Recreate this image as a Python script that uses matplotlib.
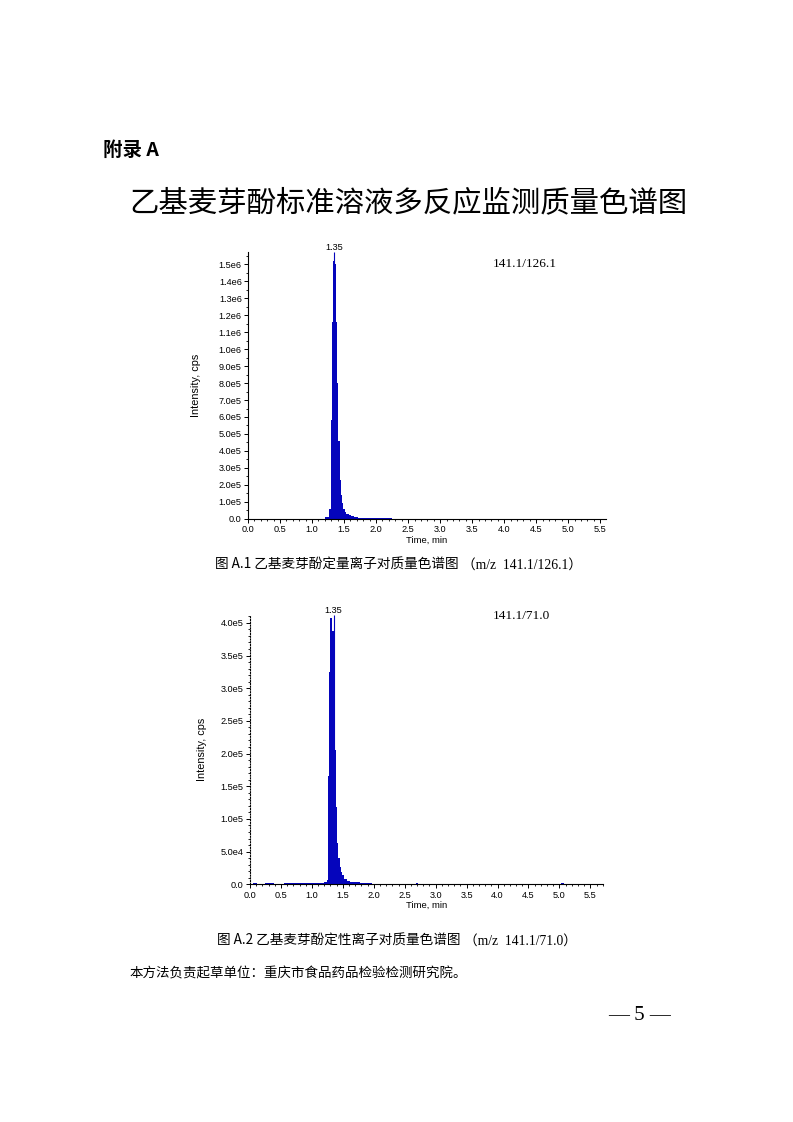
import matplotlib
matplotlib.use('Agg')
import matplotlib.pyplot as plt
from matplotlib.ticker import MultipleLocator, FixedLocator
import numpy as np

plt.rcParams['font.family'] = ['Noto Sans CJK SC', 'DejaVu Sans']

# 数据: 定量离子 141.1/126.1 (时间 min 为每段边界, 强度 cps 为每段值)
t1 = [1.21, 1.27, 1.29, 1.31, 1.33, 1.35, 1.37, 1.39, 1.41, 1.43, 1.45, 1.47,
      1.49, 1.51, 1.53, 1.57, 1.61, 1.65, 1.72, 2.25]
y1 = [1.0e4, 6.0e4, 5.8e5, 1.16e6, 1.52e6, 1.50e6, 1.16e6, 8.0e5, 4.6e5, 2.3e5,
      1.4e5, 9.0e4, 6.0e4, 4.0e4, 3.0e4, 2.4e4, 1.8e4, 1.2e4, 6.0e3]
apex1 = (1.35, 1.575e6)

# 数据: 定性离子 141.1/71.0
t2 = [0.05, 0.12, 0.25, 0.38, 0.55, 0.62, 1.20, 1.24, 1.26, 1.28, 1.30, 1.33,
      1.35, 1.37, 1.39, 1.41, 1.43, 1.45, 1.47, 1.49, 1.52, 1.57, 1.62, 1.78,
      1.97, 2.55, 2.68, 2.72, 5.03, 5.08]
y2 = [2.0e3, 0, 2.0e3, 0, 2.0e3, 1.5e3, 3.0e3, 7.0e3, 1.65e5, 3.25e5, 4.07e5,
      3.87e5, 3.03e5, 2.06e5, 1.19e5, 6.3e4, 4.0e4, 2.7e4, 1.9e4, 1.4e4, 8.0e3,
      5.0e3, 3.5e3, 1.5e3, 1.0e3, 0, 2.0e3, 0, 2.0e3]
apex2 = (1.35, 4.12e5)

ticks1 = np.arange(0, 16) * 1e5
labels1 = ['0.0'] + [f'{i}.0e5' for i in range(1, 10)] + [f'1.{i}e6' for i in range(0, 6)]
ticks2 = np.arange(0, 9) * 5e4
labels2 = ['0.0', '5.0e4', '1.0e5', '1.5e5', '2.0e5', '2.5e5', '3.0e5', '3.5e5', '4.0e5']

W, H = 793, 1122
fig = plt.figure(figsize=(W / 100, H / 100), dpi=100)

def fx(x):
    return x / W

def fy(y):
    return 1 - y / H

blue = '#0505bc'
sans = ['Liberation Sans', 'DejaVu Sans']
tickfont = dict(family=sans, size=6.6)

def chrom(rect, t, y, apex, ticks, labels, xmax, ymax, dotted, lpad):
    ax = fig.add_axes(rect)
    ax.stairs(y, t, fill=True, color=blue, linewidth=0)
    ax.vlines(apex[0], 0, apex[1], color=blue, linewidth=0.8)
    ax.set_xlim(0, xmax)
    ax.set_ylim(0, ymax)
    for s in ['top', 'right']:
        ax.spines[s].set_visible(False)
    for s in ['left', 'bottom']:
        ax.spines[s].set_linewidth(0.8)
    if dotted:
        ax.spines['left'].set_linestyle((0, (1, 1.5)))
    ax.xaxis.set_minor_locator(MultipleLocator(0.1))
    xt = np.arange(0, 5.51, 0.5)
    ax.set_xticks(xt)
    ax.set_xticklabels([f'{v:.1f}' for v in xt], **tickfont)
    ax.yaxis.set_major_locator(FixedLocator(ticks))
    ax.set_yticklabels(labels, **tickfont)
    ax.yaxis.set_minor_locator(MultipleLocator(ticks[1] / 2 if not dotted else 1e4))
    ax.tick_params(which='major', length=3, width=0.7, pad=1.5, direction='out')
    ax.tick_params(which='minor', length=1.5, width=0.6, direction='out')
    ax.set_xlabel('Time, min', fontsize=6.8, family=sans, labelpad=1)
    ax.set_ylabel('Intensity, cps', fontsize=7.8, family=sans, labelpad=lpad)
    ax.text(apex[0], ymax, f'{apex[0]:.2f}', ha='center', va='bottom', **tickfont)
    return ax

# 图 A.1
chrom([fx(248), fy(518.7), fx(606) - fx(248), (518.7 - 251.7) / H],
      t1, y1, apex1, ticks1, labels1, 5.59, 1.575e6, False, 13)
fig.text(fx(493), fy(264), '141.1/126.1', ha='left', va='center',
         family=['Liberation Serif', 'DejaVu Serif'], fontsize=9.5)
# 图 A.2
chrom([fx(250), fy(884.3), fx(602.7) - fx(250), (884.3 - 615) / H],
      t2, y2, apex2, ticks2, labels2, 5.70, 4.12e5, True, 10)
fig.text(fx(493), fy(616), '141.1/71.0', ha='left', va='center',
         family=['Liberation Serif', 'DejaVu Serif'], fontsize=9.5)

# 页面文字
fig.text(fx(103), fy(150), '附录 A', fontsize=14, weight='bold', ha='left', va='center')
fig.text(fx(408), fy(203), '乙基麦芽酚标准溶液多反应监测质量色谱图', fontsize=21.2, ha='center', va='center')

fig.text(fx(215), fy(565), '图 A.1 乙基麦芽酚定量离子对质量色谱图', fontsize=9.8, ha='left', va='center')
fig.text(fx(582), fy(565), '（m/z  141.1/126.1）', fontsize=9.8, ha='right', va='center',
         family=['Liberation Serif', 'Noto Sans CJK SC'])
fig.text(fx(217), fy(941), '图 A.2 乙基麦芽酚定性离子对质量色谱图', fontsize=9.8, ha='left', va='center')
fig.text(fx(577), fy(941), '（m/z  141.1/71.0）', fontsize=9.8, ha='right', va='center',
         family=['Liberation Serif', 'Noto Sans CJK SC'])

fig.text(fx(130), fy(973), '本方法负责起草单位：重庆市食品药品检验检测研究院。', fontsize=9.7, ha='left', va='center')
fig.text(fx(640), fy(1015), '— 5 —', fontsize=15, ha='center', va='center',
         family=['Liberation Serif', 'DejaVu Serif'])

fig.savefig('out.png', dpi=100)
